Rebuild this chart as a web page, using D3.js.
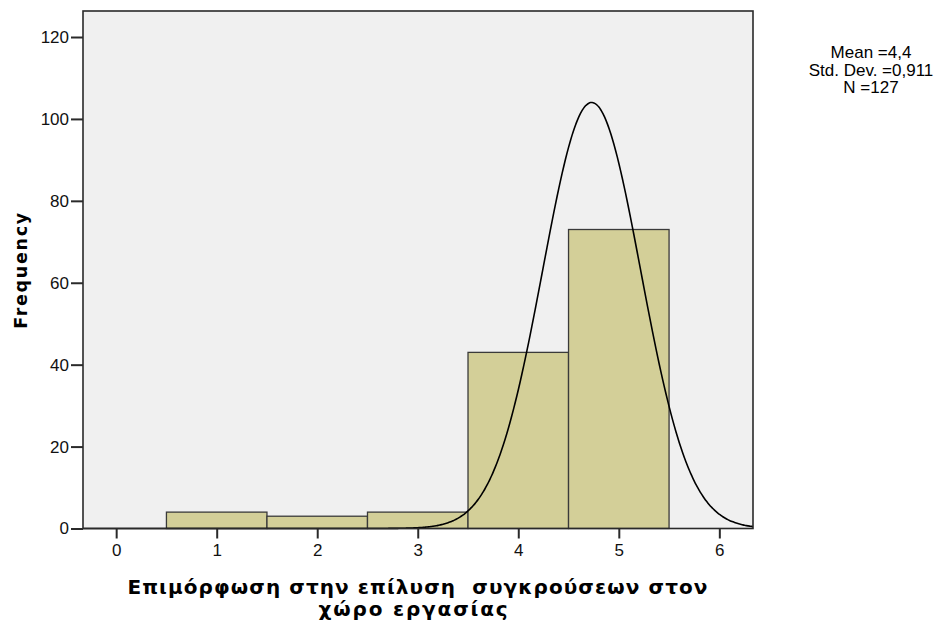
<!DOCTYPE html>
<html>
<head>
<meta charset="utf-8">
<script src="https://cdn.jsdelivr.net/npm/d3@7"></script>
<style>
  html, body { margin: 0; padding: 0; background: #ffffff; }
  svg { display: block; font-family: Arial, "Liberation Sans", sans-serif; }
</style>
</head>
<body>
<svg id="chart" width="940" height="626"></svg>
<script>
// Histogram bins (centre value) and their frequencies
const binCenters = [1, 2, 3, 4, 5];
const frequencies = [4, 3, 4, 43, 73];
const xTicks = [0, 1, 2, 3, 4, 5, 6];
const yTicks = [0, 20, 40, 60, 80, 100, 120];
const statLines = ["Mean =4,4", "Std. Dev. =0,911", "N =127"];
const xTitleLines = ["Επιμόρφωση στην επίλυση  συγκρούσεων στον", "χώρο εργασίας"];
const yTitle = "Frequency";

// Normal overlay curve parameters (peak position, spread, total count)
const curveMean = 4.73;
const curveSd = 0.487;
const curveN = 127;

const svg = d3.select("#chart");
const plot = { left: 83, top: 11, right: 753, bottom: 528.5 };

const x = d3.scaleLinear().domain([-0.33, 6.335]).range([plot.left, plot.right]);
const y = d3.scaleLinear().domain([0, 126.35]).range([plot.bottom, plot.top]);

// plot background
svg.append("rect")
  .attr("x", plot.left).attr("y", plot.top)
  .attr("width", plot.right - plot.left).attr("height", plot.bottom - plot.top)
  .attr("fill", "#f0f0f0");

// bars
svg.append("g").selectAll("rect")
  .data(binCenters.map((c, i) => ({ c, f: frequencies[i] })))
  .join("rect")
  .attr("x", d => x(d.c - 0.5))
  .attr("y", d => y(d.f))
  .attr("width", d => x(d.c + 0.5) - x(d.c - 0.5))
  .attr("height", d => y(0) - y(d.f))
  .attr("fill", "#d3cf98")
  .attr("stroke", "#3a3a3a")
  .attr("stroke-width", 1.3);

// normal curve
const pts = d3.range(0, 401).map(i => {
  const v = -0.33 + (6.335 + 0.33) * i / 400;
  const z = (v - curveMean) / curveSd;
  return [v, curveN / (curveSd * Math.sqrt(2 * Math.PI)) * Math.exp(-0.5 * z * z)];
});
svg.append("path")
  .datum(pts)
  .attr("fill", "none")
  .attr("stroke", "#000")
  .attr("stroke-width", 1.6)
  .attr("d", d3.line().x(d => x(d[0])).y(d => y(d[1])).curve(d3.curveBasis));

// frame
svg.append("rect")
  .attr("x", plot.left).attr("y", plot.top)
  .attr("width", plot.right - plot.left).attr("height", plot.bottom - plot.top)
  .attr("fill", "none").attr("stroke", "#2a2a2a").attr("stroke-width", 1.6);

// axes
const yAxis = svg.append("g")
  .attr("transform", `translate(${plot.left},0)`)
  .call(d3.axisLeft(y).tickValues(yTicks).tickSize(12).tickPadding(2).tickSizeOuter(0));
const xAxis = svg.append("g")
  .attr("transform", `translate(0,${plot.bottom})`)
  .call(d3.axisBottom(x).tickValues(xTicks).tickFormat(d3.format("d"))
    .tickSize(10).tickPadding(5).tickSizeOuter(0));
[yAxis, xAxis].forEach(a => {
  a.select(".domain").remove();
  a.selectAll(".tick line").attr("stroke", "#2a2a2a").attr("stroke-width", 2);
  a.selectAll(".tick text")
    .style("font-family", "Arial, 'Liberation Sans', sans-serif")
    .attr("font-size", 17).attr("fill", "#111");
});

// stretch a text element to a given width using letter spacing
function fitWidth(sel, target) {
  sel.each(function () {
    const el = this;
    const n = el.textContent.length;
    const natural = el.getComputedTextLength();
    const ls = (target - natural) / Math.max(1, n - 1);
    d3.select(el).attr("letter-spacing", ls);
  });
}

const titleFont = "'DejaVu Sans', Verdana, sans-serif";

// axis titles
const yt = svg.append("text")
  .attr("transform", "translate(27,270) rotate(-90)")
  .attr("text-anchor", "middle")
  .style("font-family", titleFont)
  .attr("font-size", 17.5).attr("font-weight", "bold")
  .attr("fill", "#000")
  .text(yTitle);
fitWidth(yt, 116);

const xTitleWidths = [580, 189];
svg.append("g").selectAll("text")
  .data(xTitleLines)
  .join("text")
  .attr("x", (d, i) => i === 0 ? 418 : 414)
  .attr("y", (d, i) => 594 + i * 22)
  .attr("text-anchor", "middle")
  .style("font-family", titleFont)
  .attr("font-size", 20).attr("font-weight", "bold")
  .attr("fill", "#000")
  .attr("xml:space", "preserve")
  .style("white-space", "pre")
  .text(d => d)
  .each(function (d, i) { fitWidth(d3.select(this), xTitleWidths[i]); });

// summary statistics
svg.append("g").selectAll("text")
  .data(statLines)
  .join("text")
  .attr("x", 871)
  .attr("y", (d, i) => 58 + i * 17.5)
  .attr("text-anchor", "middle")
  .attr("font-size", 17)
  .attr("fill", "#000")
  .text(d => d);
</script>
</body>
</html>
